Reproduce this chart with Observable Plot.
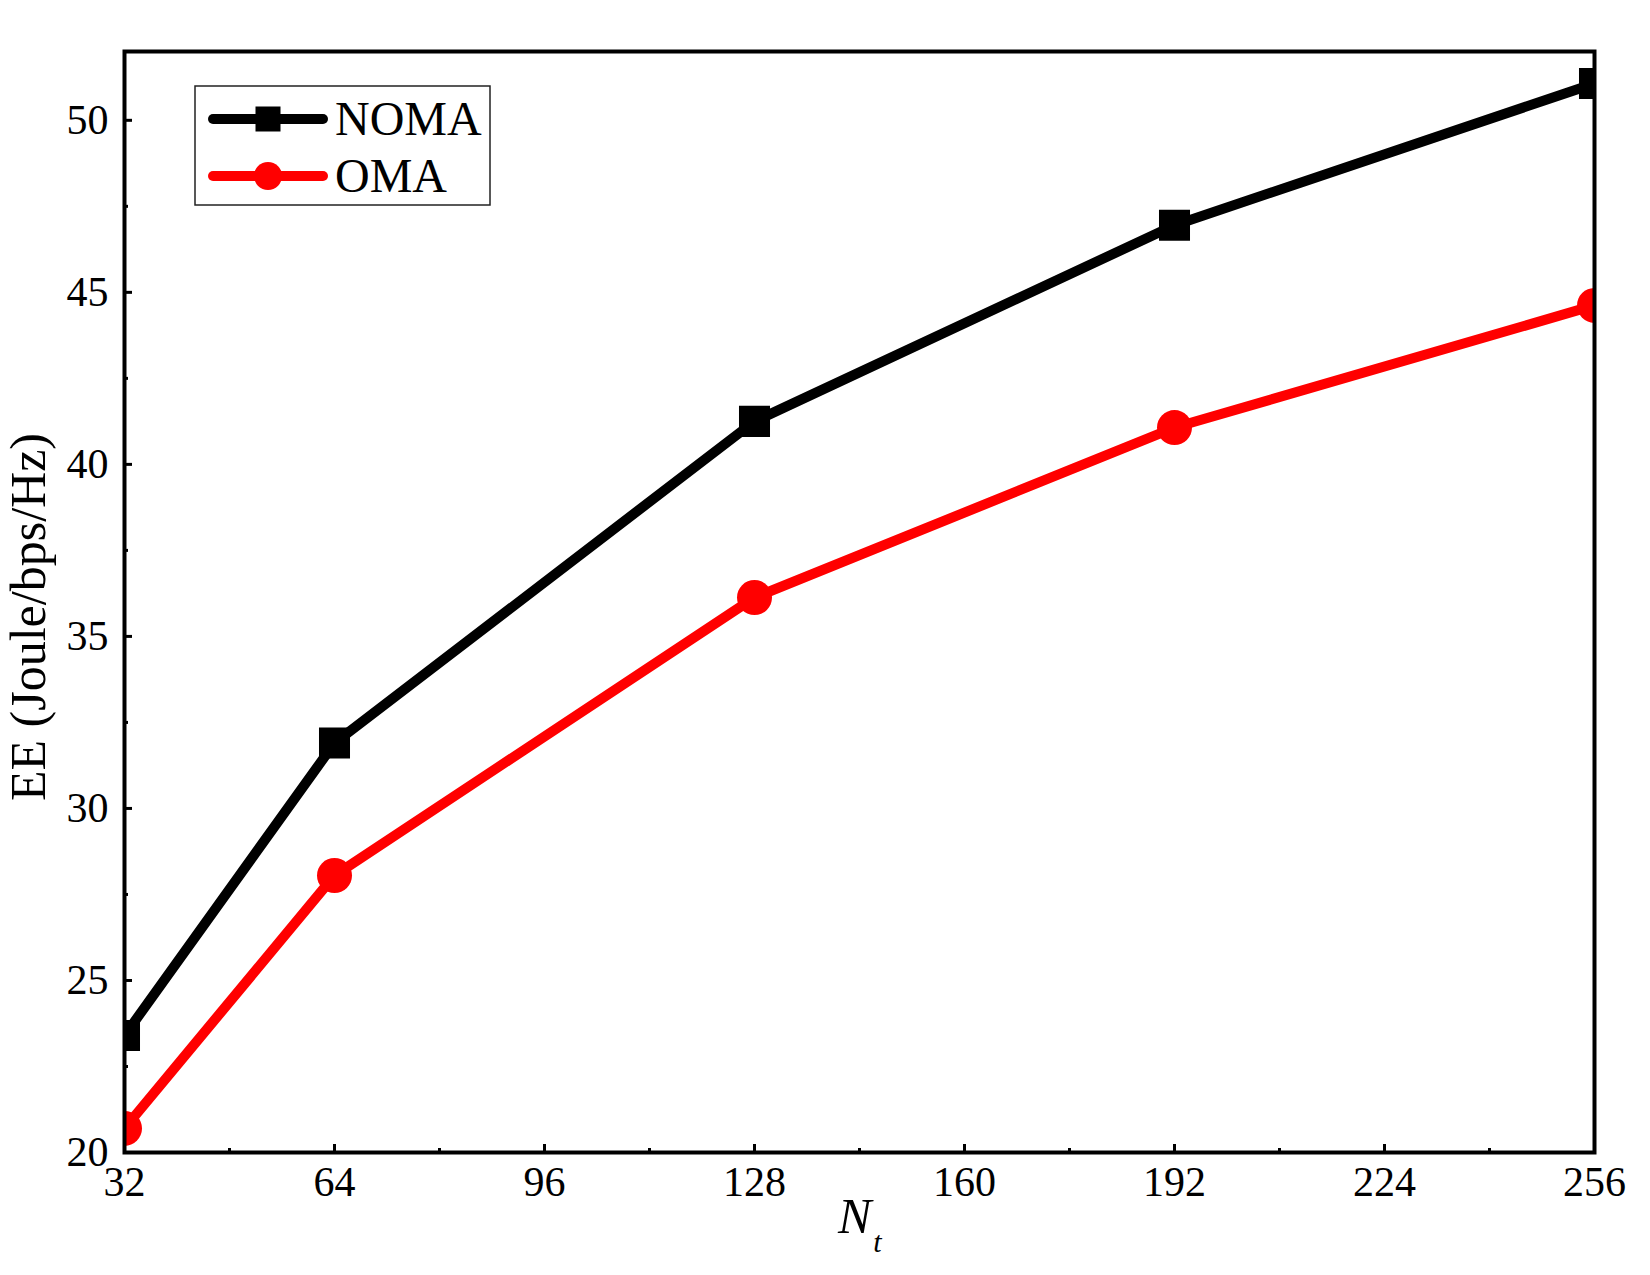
<!DOCTYPE html>
<html>
<head>
<meta charset="utf-8">
<script src="https://cdn.jsdelivr.net/npm/d3@7"></script>
<script src="https://cdn.jsdelivr.net/npm/@observablehq/plot@0.6"></script>
<style>
  html, body { margin: 0; padding: 0; background: #fff; }
  #chart { width: 1650px; height: 1275px; }
</style>
</head>
<body>
<div id="chart"></div>
<script>
// Energy efficiency versus number of transmit antennas N_t
const antennas = [32, 64, 128, 192, 256];
const eeNOMA = [23.4, 31.9, 41.25, 46.95, 51.07];
const eeOMA = [20.7, 28.05, 36.13, 41.07, 44.62];

const seriesNames = ["NOMA", "OMA"];
const seriesColors = ["#000000", "#ff0000"];
const seriesSymbols = ["square", "circle"];

const xTicks = [32, 64, 96, 128, 160, 192, 224, 256];
const xMinorTicks = [48, 80, 112, 144, 176, 208, 240];
const yTicks = [20, 25, 30, 35, 40, 45, 50];
const yMinorTicks = [22.5, 27.5, 32.5, 37.5, 42.5, 47.5];

const yLabel = "EE (Joule/bps/Hz)";

// long-format table for the line and dot marks
const rows = [];
antennas.forEach((n, i) => {
  rows.push({series: seriesNames[0], n, ee: eeNOMA[i]});
  rows.push({series: seriesNames[1], n, ee: eeOMA[i]});
});

const serif = "'Liberation Serif', 'Times New Roman', serif";

const chart = Plot.plot({
  width: 1650,
  height: 1275,
  marginLeft: 124,
  marginRight: 56,
  marginTop: 51,
  marginBottom: 123,
  style: {fontFamily: serif, fontSize: "42px", color: "#000", background: "#fff", overflow: "visible"},
  x: {domain: [32, 256]},
  y: {domain: [20, 52]},
  color: {domain: seriesNames, range: seriesColors},
  symbol: {domain: seriesNames, range: seriesSymbols},
  marks: [
    Plot.line(rows, {x: "n", y: "ee", z: "series", stroke: "series", strokeWidth: 10, strokeLinejoin: "round", clip: true}),
    Plot.dot(rows, {x: "n", y: "ee", fill: "series", symbol: "series", r: 17.5, stroke: "none", clip: true}),
    // inward-pointing major and minor ticks
    Plot.axisX(xTicks, {tickSize: -8, tickPadding: 22, strokeWidth: 3, label: null}),
    Plot.axisX(xMinorTicks, {tickSize: -4, tickPadding: 0, tickFormat: () => "", strokeWidth: 3, label: null}),
    Plot.axisY(yTicks, {tickSize: -8, tickPadding: 24, strokeWidth: 3, label: null}),
    Plot.axisY(yMinorTicks, {tickSize: -4, tickPadding: 0, tickFormat: () => "", strokeWidth: 3, label: null}),
    Plot.frame({stroke: "#000", strokeWidth: 4})
  ]
});

document.getElementById("chart").append(chart);

const svg = d3.select(chart);

// axis titles
svg.append("text")
  .attr("transform", "translate(45,617) rotate(-90)")
  .attr("text-anchor", "middle")
  .attr("font-family", serif)
  .attr("font-size", 50)
  .attr("fill", "#000")
  .text(yLabel);

const xTitle = svg.append("text")
  .attr("x", 838)
  .attr("y", 1233)
  .attr("text-anchor", "start")
  .attr("font-family", serif)
  .attr("font-style", "italic")
  .attr("fill", "#000");
xTitle.append("tspan").attr("font-size", 50).text("N");
xTitle.append("tspan").attr("font-size", 30).attr("dx", 2).attr("dy", 19).text("t");

// legend box
const legend = svg.append("g").attr("font-family", serif).attr("font-size", 48);
legend.append("rect")
  .attr("x", 195).attr("y", 86).attr("width", 295).attr("height", 119)
  .attr("fill", "#fff").attr("stroke", "#222").attr("stroke-width", 1.5);

seriesNames.forEach((name, i) => {
  const cy = 119 + i * 57;
  const g = legend.append("g");
  g.append("line")
    .attr("x1", 213).attr("x2", 323).attr("y1", cy).attr("y2", cy)
    .attr("stroke", seriesColors[i]).attr("stroke-width", 10).attr("stroke-linecap", "round");
  if (seriesSymbols[i] === "square") {
    g.append("rect").attr("x", 268 - 12.5).attr("y", cy - 12.5).attr("width", 25).attr("height", 25)
      .attr("fill", seriesColors[i]);
  } else {
    g.append("circle").attr("cx", 268).attr("cy", cy).attr("r", 14).attr("fill", seriesColors[i]);
  }
  g.append("text").attr("x", 335).attr("y", cy + 16).attr("text-anchor", "start")
    .attr("fill", "#000").text(name);
});
</script>
</body>
</html>
